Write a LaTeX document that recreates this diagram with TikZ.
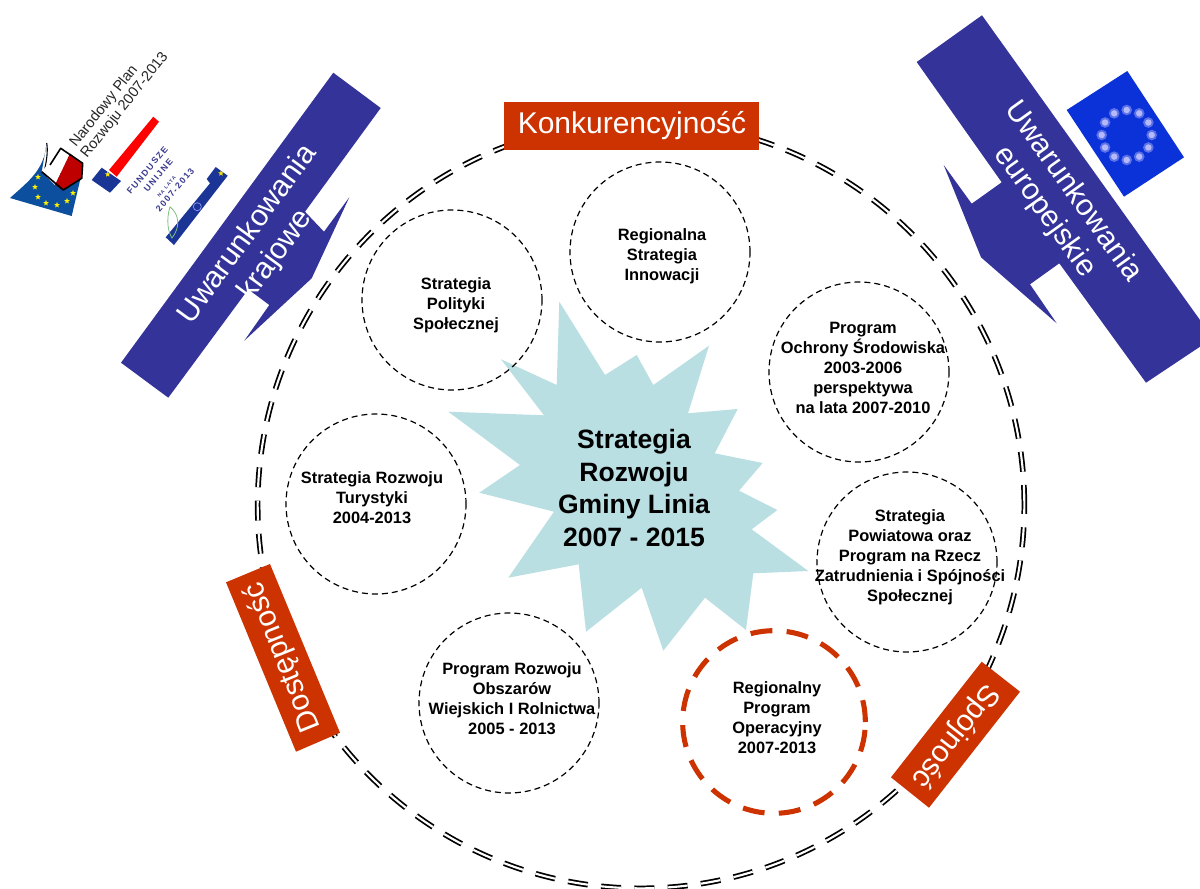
\documentclass[tikz,border=0pt]{standalone}
\usepackage{fontspec}
\setmainfont{Liberation Sans}
\usetikzlibrary{shapes.geometric}
\definecolor{bandblue}{HTML}{333399}
\definecolor{boxorange}{HTML}{CC3300}
\definecolor{starblue}{HTML}{B9DFE3}
\definecolor{flagblue}{HTML}{0A32D8}
\definecolor{logoblue}{HTML}{0B4F9E}
\definecolor{fundblue}{HTML}{1A3596}
\definecolor{fundtext}{HTML}{3A3A90}
\tikzset{
  bigring/.style={draw=black,line width=1.3pt,double=white,double distance=1.6pt,dash pattern=on 15pt off 10pt},
  smallring/.style={draw=black,line width=0.9pt,dash pattern=on 4.5pt off 3pt},
  orangering/.style={draw=boxorange,line width=3.8pt,dash pattern=on 16.5pt off 10.7pt},
  circtext/.style={align=center,inner sep=0pt,font=\bfseries\fontsize{12.3pt}{15pt}\selectfont},
  maintext/.style={align=center,inner sep=0pt,font=\bfseries\fontsize{19.9pt}{24.4pt}\selectfont},
  bandtext/.style={align=center,inner sep=0pt,text=white,font=\fontsize{22.5pt}{26pt}\selectfont},
  boxtext/.style={inner sep=0pt,text=white,font=\fontsize{22.5pt}{26pt}\selectfont},
  logotext/.style={inner sep=0pt,anchor=base west,rotate=51.5,text=black!85,font=\fontsize{11pt}{13pt}\selectfont},
  fundtextstyle/.style={inner sep=0pt,rotate=50,text=fundtext,font=\bfseries\fontsize{6.6pt}{7pt}\selectfont},
  smallstar/.style={star,star points=5,star point ratio=2.4,fill=#1,inner sep=0pt,minimum size=4.5pt},
}
\begin{document}
\begin{tikzpicture}[x=0.75pt,y=-0.75pt]
\useasboundingbox (0,0) rectangle (1200,889);
\fill[white] (0,0) rectangle (1200,889);

% big double ring
\draw[bigring] (641,505) circle (287.5pt);

% central star
\fill[starblue] (559.3,301.7)--(605,375)--(636.7,355)--(653.3,385)--(709,345.7)--(688,413.3)--(737.7,409)--(714.7,453.3)--(762.7,463)--(739,490.7)--(777.3,510)--(751.7,529.3)--(808.3,571)--(753.3,573.3)--(746,630)--(705,597.7)--(663.3,650.7)--(641.7,587.7)--(586,631.7)--(578.7,564.3)--(508.3,577.7)--(554,511.7)--(479.3,492.7)--(520,465)--(448.3,411.7)--(544,415.3)--(501,359.3)--(556.7,385)--cycle;
\node[maintext] (center) at (634,488) {Strategia\\Rozwoju\\Gminy Linia\\2007 - 2015};

% small circles
\draw[smallring] (660,252) circle (67.5pt);
\draw[smallring] (452,300) circle (67.5pt);
\draw[smallring] (859,372) circle (67.5pt);
\draw[smallring] (376,504) circle (67.5pt);
\draw[smallring] (907,562) circle (67.5pt);
\draw[smallring] (509,703) circle (67.5pt);
\draw[orangering] (774,722) circle (68.5pt);

\node[circtext] (c1) at (662,256) {Regionalna\\Strategia\\Innowacji};
\node[circtext] (c2) at (456,305) {Strategia\\Polityki\\Społecznej};
\node[circtext] (c3) at (863,368) {Program\\Ochrony Środowiska\\2003-2006\\perspektywa\\na lata 2007-2010};
\node[circtext] (c4) at (372,498) {Strategia Rozwoju\\Turystyki\\2004-2013};
\node[circtext] (c5) at (910,557) {Strategia\\Powiatowa oraz\\Program na Rzecz\\Zatrudnienia i Spójności\\Społecznej};
\node[circtext] (c6) at (512,699) {Program Rozwoju\\Obszarów\\Wiejskich I Rolnictwa\\2005 - 2013};
\node[circtext] (c7) at (777,718) {Regionalny\\Program\\Operacyjny\\2007-2013};

% left band with arrow
\fill[bandblue] (333.3,72.7)--(380.7,108)--(305,211.7)--(324,231.7)--(349.3,197.3)--(311.7,278.3)--(244.3,340.7)--(269.3,305)--(248.3,289.3)--(168.3,397.7)--(121,362.7)--cycle;
\node[bandtext,rotate=53.8] (lefttext) at (262,245) {Uwarunkowania\\krajowe};

% right band with arrow
\fill[bandblue] (982,15.3)--(1200,320)--(1200,346.7)--(1146,382.7)--(1059.3,263.3)--(1030,284.3)--(1056.7,323.3)--(981,257.3)--(943.7,165)--(971.7,203.7)--(1001.7,182.3)--(916.7,62)--cycle;
\node[bandtext,rotate=-54.4] (righttext) at (1059,202) {Uwarunkowania\\europejskie};

% EU flag
\fill[flagblue] (1127.3,71)--(1066.7,110)--(1124,196.7)--(1184,157.3)--cycle;
\foreach \a in {0,30,...,330}{
  \fill[blue!25!white,opacity=0.45] ({1126.7+25*cos(\a)},{135+25*sin(\a)}) circle (4pt);
  \fill[blue!20!white,opacity=0.8] ({1126.7+25*cos(\a)},{135+25*sin(\a)}) circle (2.4pt);
}

% orange labels
\fill[boxorange] (504,102) rectangle (759,150);
\node[boxtext] (konk) at (632,126) {Konkurencyjność};
\fill[boxorange] (226,582.3)--(270,564)--(340,732.7)--(296,751.7)--cycle;
\node[boxtext,rotate=112] (dost) at (283,657) {Dostępność};
\fill[boxorange] (981.7,661.7)--(1020,691.7)--(929,807.7)--(891,777.3)--cycle;
\node[boxtext,rotate=232] (spoj) at (955,736) {Spójność};

% Narodowy Plan logo
\fill[logoblue] (46.7,143) .. controls (44,170) and (30,180) .. (10,198)--(71.7,216)--(82,172)--(41.7,171.7)--cycle;
\draw[black,line width=0.8pt] (46.7,143) .. controls (48,150) and (47,160) .. (44,172);
\fill[white] (60.7,148.3)--(70,153.5)--(55,185)--(41.7,171.7)--cycle;
\fill[red!75!black] (70,153.5)--(82.7,163.3)--(81.7,178.3)--(63.3,190)--(55,185)--cycle;
\draw[black,line width=1.2pt,line join=round] (50,165)--(60.7,148.3)--(82.7,163.3)--(81.7,178.3)--(63.3,190)--(41.7,171.7);
\foreach \x/\y [count=\i] in {35/187,38/177,38/197,46/203,57/205,67/201,73/193}
  \node[smallstar=yellow] (ns\i) at (\x,\y) {};
\node[logotext] (np1) at (76,148) {Narodowy Plan};
\node[logotext] (np2) at (87,159) {Rozwoju 2007-2013};

% Fundusze logo
\fill[red] (153.3,116.7)--(159,121.7)--(116.7,176.7)--(109,170)--cycle;
\fill[fundblue] (101.7,167.7)--(121,181)--(110,192.7)--(91.7,180)--cycle;
\fill[fundblue] (165.7,237.3)--(210,183.3)--(206.7,179)--(215.7,167)--(227.7,175.7)--(174,245)--cycle;
\node[smallstar=yellow!90!orange] (fs1) at (107.7,174.3) {};
\node[smallstar=yellow!90!orange] (fs2) at (221,173.3) {};
\draw[blue!40!white,line width=0.5pt] (197.3,206.7) circle (3pt);
\draw[green!50!black!50!white,line width=0.6pt] (170,206.7) .. controls (166,220) and (168,232) .. (172,238) .. controls (180,228) and (180,215) .. (170,206.7);
\node[fundtextstyle] (f1) at (147.3,170) {\addfontfeature{LetterSpace=17}FUNDUSZE};
\node[fundtextstyle] (f2) at (158.3,175) {\addfontfeature{LetterSpace=17}UNIJNE};
\node[fundtextstyle,font=\bfseries\fontsize{3.6pt}{4pt}\selectfont] (f3) at (166.7,186.7) {\addfontfeature{LetterSpace=22}NA LATA};
\node[fundtextstyle] (f4) at (175,190) {\addfontfeature{LetterSpace=17}2007-2013};
\end{tikzpicture}
\end{document}
